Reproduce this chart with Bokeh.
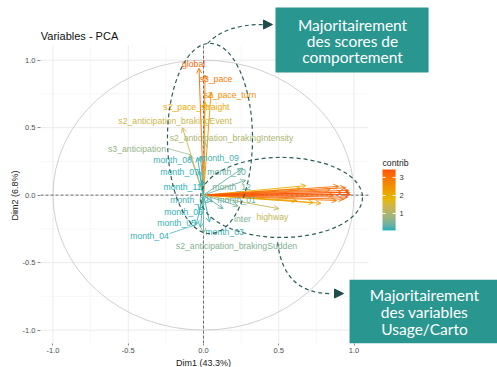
import numpy as np
from bokeh.plotting import figure
from bokeh.models import (ColumnDataSource, Arrow, OpenHead, NormalHead, LabelSet, Label, Title,
                          LinearColorMapper, FixedTicker, PrintfTickFormatter, Range1d)
from bokeh.core.properties import value
from bokeh.embed import file_html
from bokeh.resources import INLINE

# ---------------- data ----------------
title_text = "Variables - PCA"
x_title = "Dim1 (43.3%)"
y_title = "Dim2 (6.8%)"

var_names = ["global", "s3_pace", "s2_pace_turn", "s2_pace_straight",
             "s2_anticipation_brakingEvent", "s2_anticipation_brakingIntensity",
             "s3_anticipation", "month_08", "month_09", "month_07", "month_10",
             "month_11", "month_12", "month_02", "month_01", "month_06", "month_05",
             "month_04", "month_03", "s2_anticipation_brakingSudden", "inter", "highway"]
var_dim1 = [-0.03, 0.01, 0.05, 0.01, -0.14, 0.01, -0.09, -0.04, -0.02, -0.03, 0.26,
            -0.01, 0.28, 0.06, 0.13, -0.03, -0.02, -0.05, 0.04, 0.00, 0.23, 0.50]
var_dim2 = [0.94, 0.89, 0.76, 0.69, 0.50, 0.39, 0.30, 0.28, 0.29, 0.18, 0.20,
            0.11, 0.11, -0.05, -0.10, -0.11, -0.24, -0.22, -0.20, -0.28, -0.08, -0.10]
var_contrib = [3.15, 2.85, 2.5, 2.05, 1.35, 0.95, 0.7, 0.15, 0.2, 0.12, 0.35,
               0.1, 0.45, 0.2, 0.3, 0.12, 0.15, 0.15, 0.15, 0.55, 0.5, 1.25]
# repelled label positions
label_x = [-0.066, 0.083, 0.176, -0.047, -0.189, 0.186, -0.442, -0.206, 0.106, -0.159, 0.153,
           -0.140, 0.186, -0.093, 0.219, -0.133, -0.179, -0.359, 0.140, 0.219, 0.259, 0.458]
label_y = [0.975, 0.857, 0.739, 0.650, 0.553, 0.427, 0.339, 0.257, 0.272, 0.168, 0.175,
           0.064, 0.064, -0.039, -0.039, -0.128, -0.210, -0.299, -0.276, -0.373, -0.173, -0.165]
# ggrepel connector segments (label side end)
repel_names = ["s3_anticipation", "month_04"]
repel_x = [-0.239, -0.226]
repel_y = [0.346, -0.284]

# variables whose labels were dropped (overlapping), Usage/Carto group
extra_dim1 = [0.68, 0.645, 0.73, 0.78, 0.62, 0.84, 0.864, 0.884, 0.897, 0.917,
              0.93, 0.943, 0.957, 0.963, 0.97, 0.977]
extra_dim2 = [0.07, 0.05, -0.055, -0.06, -0.04, 0.04, 0.0, -0.04, 0.065, 0.02,
              -0.03, 0.055, -0.015, 0.035, 0.02, 0.005]
extra_contrib = [2.0, 2.2, 2.0, 2.2, 2.3, 2.7, 2.9, 2.8, 3.0, 3.1,
                 3.1, 3.2, 3.3, 3.3, 3.35, 3.4]

contrib_low, contrib_high = 0.06, 3.44
legend_title = "contrib"
legend_ticks = [1, 2, 3]
axis_ticks = [-1.0, -0.5, 0.0, 0.5, 1.0]
grid_major = [-1.0, -0.5, 0.0, 0.5, 1.0]
grid_minor = [-0.75, -0.25, 0.25, 0.75]

box_lines_top = ["Majoritairement", "des scores de", "comportement"]
box_lines_bottom = ["Majoritairement", "des variables", "Usage/Carto"]

# ---------------- colours (ggplot-like Lab interpolation) ----------------
grad = ["#00AFBB", "#E7B800", "#FC4E07"]
_W = np.array([0.95047, 1.0, 1.08883])
_M = np.array([[0.4124564, 0.3575761, 0.1804375],
               [0.2126729, 0.7151522, 0.0721750],
               [0.0193339, 0.1191920, 0.9503041]])
_MI = np.linalg.inv(_M)


def _to_lab(h):
    rgb = np.array([int(h[i:i + 2], 16) for i in (1, 3, 5)], dtype=float) / 255
    lin = np.where(rgb <= 0.04045, rgb / 12.92, ((rgb + 0.055) / 1.055) ** 2.4)
    xyz = _M @ lin / _W
    f = np.where(xyz > 0.008856, np.cbrt(xyz), 7.787 * xyz + 16 / 116)
    return np.array([116 * f[1] - 16, 500 * (f[0] - f[1]), 200 * (f[1] - f[2])])


def _from_lab(lab):
    fy = (lab[0] + 16) / 116
    f = np.array([fy + lab[1] / 500, fy, fy - lab[2] / 200])
    xyz = np.where(f ** 3 > 0.008856, f ** 3, (f - 16 / 116) / 7.787) * _W
    lin = np.clip(_MI @ xyz, 0, 1)
    s = np.where(lin <= 0.0031308, 12.92 * lin, 1.055 * lin ** (1 / 2.4) - 0.055)
    return "#%02x%02x%02x" % tuple(int(round(v * 255)) for v in np.clip(s, 0, 1))


_labs = [_to_lab(c) for c in grad]
palette = []
for t in np.linspace(0, 1, 256):
    seg = min(int(t * 2), 1)
    u = t * 2 - seg
    palette.append(_from_lab(_labs[seg] * (1 - u) + _labs[seg + 1] * u))


def colour(v):
    i = int(round((v - contrib_low) / (contrib_high - contrib_low) * 255))
    return palette[max(0, min(255, i))]


FONT = "Liberation Sans"

# ---------------- figure ----------------
PX = (-1.083, 1.096)
PY = (-1.10, 1.11)
p = figure(width=497, height=367, x_range=Range1d(-1.083, 1.953), y_range=Range1d(-1.099, 1.442),
           output_backend="svg", toolbar_location=None,
           min_border_left=40, min_border_right=0, min_border_top=0, min_border_bottom=24)
p.grid.visible = False
p.outline_line_color = None
p.background_fill_color = "white"
p.border_fill_color = "white"

for ax in (p.xaxis[0], p.yaxis[0]):
    ax.ticker = FixedTicker(ticks=axis_ticks)
    ax.formatter = PrintfTickFormatter(format="%.1f")
    ax.axis_line_color = None
    ax.major_tick_line_color = "#8a8a8a"
    ax.major_tick_in = 0
    ax.minor_tick_line_color = None
    ax.major_label_text_font = FONT
    ax.major_label_text_font_size = "7.5px"
    ax.major_label_text_color = "#4D4D4D"
p.xaxis[0].major_tick_out = 2
p.xaxis[0].major_label_standoff = 2
p.yaxis[0].major_tick_out = 3
p.yaxis[0].major_label_standoff = 2

p.add_layout(Title(text=x_title, align="left", offset=135.5, standoff=0, text_font=FONT,
                   text_font_size="9px", text_font_style="normal", text_color="#222222"), "below")
p.add_layout(Title(text=y_title, align="left", offset=123, standoff=0, text_font=FONT,
                   text_font_size="9px", text_font_style="normal", text_color="#222222"), "left")

# panel grid
n = len(grid_major)
m = len(grid_minor)
p.segment(x0=grid_minor, y0=[PY[0]] * m, x1=grid_minor, y1=[PY[1]] * m, line_color="#F2F2F2", line_width=0.6)
p.segment(x0=[PX[0]] * m, y0=grid_minor, x1=[PX[1]] * m, y1=grid_minor, line_color="#F2F2F2", line_width=0.6)
p.segment(x0=grid_major, y0=[PY[0]] * n, x1=grid_major, y1=[PY[1]] * n, line_color="#EBEBEB", line_width=1)
p.segment(x0=[PX[0]] * n, y0=grid_major, x1=[PX[1]] * n, y1=grid_major, line_color="#EBEBEB", line_width=1)

# correlation circle
p.ellipse(x=[0], y=[0], width=[2], height=[2], fill_color=None, line_color="#C4C4C4", line_width=0.8)
# reference lines
p.segment(x0=[0, PX[0]], y0=[PY[0], 0], x1=[0, PX[1]], y1=[PY[1], 0],
          line_color="#333333", line_dash="3 2", line_width=0.7)

# arrows
all_x = extra_dim1 + var_dim1
all_y = extra_dim2 + var_dim2
all_c = extra_contrib + var_contrib
for x, y, c in zip(all_x, all_y, all_c):
    col = colour(c)
    p.add_layout(Arrow(x_start=0, y_start=0, x_end=x, y_end=y, line_color=col, line_width=0.9,
                       end=OpenHead(size=5, line_color=col, line_width=0.9)))

# repel segments
for nm, sx, sy in zip(repel_names, repel_x, repel_y):
    i = var_names.index(nm)
    p.segment(x0=[sx], y0=[sy], x1=[var_dim1[i]], y1=[var_dim2[i]],
              line_color=colour(var_contrib[i]), line_width=0.7)

src = ColumnDataSource(dict(x=label_x, y=label_y, name=var_names,
                            color=[colour(c) for c in var_contrib]))
p.add_layout(LabelSet(x="x", y="y", text="name", source=src, text_color="color",
                      text_align="center", text_baseline="middle",
                      text_font=value(FONT), text_font_size="8.7px"))

# title
p.add_layout(Label(x=PX[0] + 0.002, y=1.176, text=title_text, text_font=FONT,
                   text_font_size="11px", text_baseline="middle", text_color="#111111"))

# colour legend (gradient bar drawn through the colour mapper)
mapper = LinearColorMapper(palette=palette, low=contrib_low, high=contrib_high)
LX0, LX1, LY0, LY1 = 1.189, 1.276, -0.261, 0.190
bar = np.linspace(contrib_low, contrib_high, 256).reshape(256, 1)
p.image(image=[bar], x=LX0, y=LY0, dw=LX1 - LX0, dh=LY1 - LY0, color_mapper=mapper)
tick_y = [LY0 + (v - contrib_low) / (contrib_high - contrib_low) * (LY1 - LY0) for v in legend_ticks]
k = len(legend_ticks)
p.segment(x0=[LX0] * k, y0=tick_y, x1=[LX0 + 0.02] * k, y1=tick_y, line_color="white", line_width=1)
p.segment(x0=[LX1 - 0.02] * k, y0=tick_y, x1=[LX1] * k, y1=tick_y, line_color="white", line_width=1)
p.text(x=[LX1 + 0.026] * k, y=tick_y, text=[str(v) for v in legend_ticks], text_color="#333333",
       text_font=value(FONT), text_font_size="7.5px", text_baseline="middle", text_align="left")
p.text(x=[LX0], y=[0.235], text=[legend_title], text_color="#222222",
       text_font=value(FONT), text_font_size="8.7px", text_baseline="middle", text_align="left")

# overlay annotations (dashed groups + boxes)
ann = "#2E5E5C"
p.ellipse(x=[0.043, 0.518], y=[0.42, -0.017], width=[0.565, 1.076], height=[1.41, 0.593],
          fill_color=None, line_color=ann, line_width=1.2, line_dash="4 3", level="overlay")
p.quadratic(x0=[0.027, 0.492], y0=[1.124, -0.350], x1=[0.392, 0.844], y1=[1.264, -0.729],
            cx=[0.146, 0.532], cy=[1.264, -0.729], line_color=ann, line_width=1.2,
            line_dash="4 3", level="overlay")
for xs, ys, xe in [(0.392, 1.264, 0.458), (0.844, -0.729, 0.930)]:
    p.add_layout(Arrow(x_start=xs, y_start=ys, x_end=xe, y_end=ys, line_alpha=0, level="overlay",
                       end=NormalHead(size=9, fill_color="#1E4D4B", line_color="#1E4D4B")))

box_col = "#2A9690"
p.quad(left=[0.478, 0.970], right=[1.495, 1.953], top=[1.390, -0.626], bottom=[0.909, -1.098],
       fill_color=box_col, line_color=None, level="overlay")
p.text(x=[0.99] * 3, y=[1.264, 1.139, 1.020], text=box_lines_top, text_color="white",
       text_font=value("Lato"), text_font_size="15.5px", text_align="center",
       text_baseline="middle", level="overlay")
p.text(x=[1.468] * 3, y=[-0.743, -0.869, -0.995], text=box_lines_bottom, text_color="white",
       text_font=value("Lato"), text_font_size="15.5px", text_align="center",
       text_baseline="middle", level="overlay")

open("out.html", "w").write(file_html(p, INLINE))
